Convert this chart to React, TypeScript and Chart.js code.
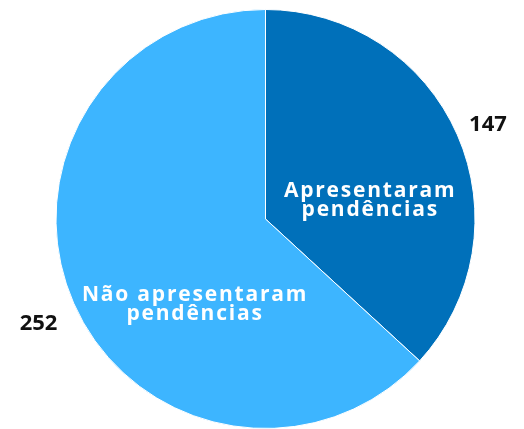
import React, { useEffect, useRef } from "react";
import { Chart, registerables } from "chart.js";

Chart.register(...registerables);

const categories = ["Apresentaram pendências", "Não apresentaram pendências"];
const values = [147, 252];
const innerLines = [["Apresentaram", "pendências"], ["Não apresentaram", "pendências"]];
const colors = ["#0070BA", "#3DB5FF"];
// inner label anchors relative to pie center, as fraction of radius
const innerAnchors = [[0.495, -0.061], [-0.341, 0.438]];
// small nudges for outer value labels (px)
const outerNudges = [[-0.5, 4], [-4, 7]];

const labelPlugin = {
  id: "pieLabels",
  afterDatasetsDraw(chart: any) {
    const ctx = chart.ctx;
    const meta = chart.getDatasetMeta(0);
    meta.data.forEach((arc: any, i: number) => {
      const { x, y, startAngle, endAngle, outerRadius } = arc.getProps(
        ["x", "y", "startAngle", "endAngle", "outerRadius"],
        true
      );
      const mid = (startAngle + endAngle) / 2;
      // outer value label
      ctx.save();
      ctx.font = "bold 22px 'Open Sans', sans-serif";
      ctx.fillStyle = "#111111";
      ctx.textAlign = "center";
      ctx.textBaseline = "middle";
      const d = outerRadius + 34;
      ctx.fillText(
        String(values[i]),
        x + Math.cos(mid) * d + outerNudges[i][0],
        y + Math.sin(mid) * d + outerNudges[i][1]
      );
      ctx.restore();
      // inner category label
      ctx.save();
      ctx.font = "bold 21px 'Open Sans', sans-serif";
      (ctx as any).letterSpacing = "1.8px";
      ctx.fillStyle = "#ffffff";
      ctx.textAlign = "center";
      ctx.textBaseline = "alphabetic";
      const cx = x + innerAnchors[i][0] * outerRadius + 1;
      const cy = y + innerAnchors[i][1] * outerRadius;
      const lines = innerLines[i];
      const lh = 18.8;
      lines.forEach((ln, k) => {
        ctx.fillText(ln, cx, cy + (k - (lines.length - 1) / 2) * lh);
      });
      ctx.restore();
    });
  },
};

export default function App() {
  const ref = useRef<HTMLCanvasElement>(null);
  useEffect(() => {
    const chart = new Chart(ref.current!, {
      type: "pie",
      data: {
        labels: categories,
        datasets: [
          {
            data: values,
            backgroundColor: colors,
            borderColor: "#ffffff",
            borderWidth: 1,
          },
        ],
      },
      options: {
        animation: false,
        responsive: false,
        maintainAspectRatio: false,
        layout: { padding: { top: 9, bottom: 0, left: 55, right: 48 } },
        plugins: {
          legend: { display: false },
          tooltip: { enabled: false },
        },
      },
      plugins: [labelPlugin],
    });
    return () => chart.destroy();
  }, []);
  return (
    <div style={{ position: "fixed", left: 0, top: 0, width: 524, height: 429, background: "#fff" }}>
      <canvas ref={ref} width={524} height={429} style={{ width: 524, height: 429 }} />
    </div>
  );
}
